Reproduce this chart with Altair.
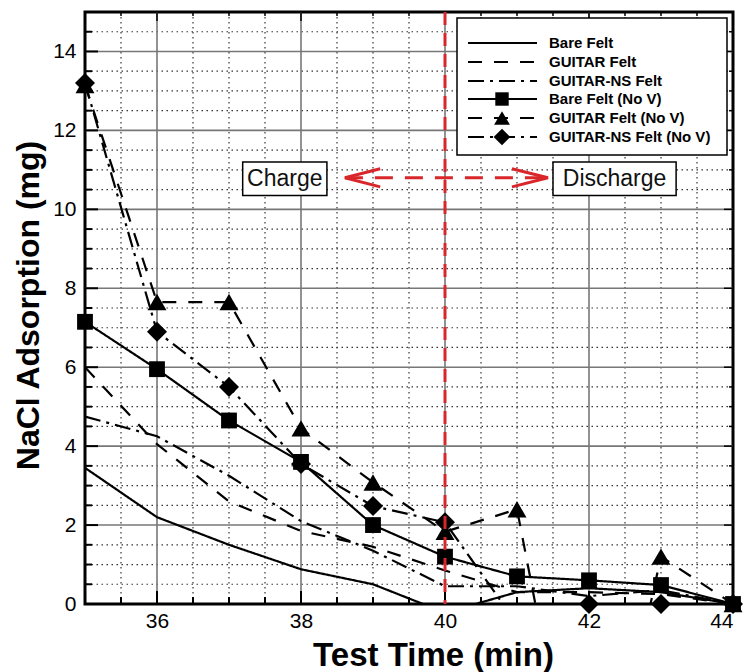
import altair as alt
import pandas as pd

# ---------------- data ----------------
times = [35, 36, 37, 38, 39, 40, 41, 42, 43, 44]
bare_felt = [3.45, 2.2, 1.5, 0.88, 0.5, -0.22, 0.3, 0.4, 0.3, 0.0]
guitar_felt = [6.0, 4.05, 2.6, 1.85, 1.45, 0.85, 0.3, 0.3, 0.25, 0.0]
guitar_ns_felt = [4.75, 4.25, 3.25, 2.1, 1.35, 0.45, 0.45, 0.2, 0.35, 0.0]
bare_felt_nov = [7.15, 5.95, 4.65, 3.6, 2.0, 1.2, 0.7, 0.6, 0.48, 0.0]
guitar_felt_nov = [13.15, 7.65, 7.65, 4.45, 3.08, 1.83, 2.4, -7.0, 1.2, 0.0]
guitar_ns_felt_nov = [13.2, 6.9, 5.5, 3.55, 2.48, 2.07, -0.5, 0.0, 0.0, 0.0]

series_names = ["Bare Felt", "GUITAR Felt", "GUITAR-NS Felt",
                "Bare Felt (No V)", "GUITAR Felt (No V)", "GUITAR-NS Felt (No V)"]
series_values = [bare_felt, guitar_felt, guitar_ns_felt,
                 bare_felt_nov, guitar_felt_nov, guitar_ns_felt_nov]

x_ticks = [36, 38, 40, 42, 44]
y_ticks = [0, 2, 4, 6, 8, 10, 12, 14]
x_minor = [35.5, 36.5, 37, 37.5, 38.5, 39, 39.5, 40.5, 41, 41.5, 42.5, 43, 43.5]
y_minor = [v / 2 for v in range(1, 30) if v % 4 != 0]
x_all_ticks = [v / 2 for v in range(71, 88)]
y_all_ticks = [v / 2 for v in range(1, 30)]

charge_x = 40
arrow_y = 10.8
arrow_left, arrow_right = 38.61, 41.43
box_labels = ["Charge", "Discharge"]
box_x1 = [37.19, 41.5]
box_x2 = [38.36, 43.21]
box_y1 = [10.35, 10.35]
box_y2 = [11.2, 11.2]

FONT = "Liberation Sans"
W, H = 648, 592
XDOM = [35, 44]
YDOM = [0, 15]

styles = {
    "Bare Felt": dict(dash=[1, 0], shape=None),
    "GUITAR Felt": dict(dash=[14, 12], shape=None),
    "GUITAR-NS Felt": dict(dash=[16, 6, 3, 6], shape=None),
    "Bare Felt (No V)": dict(dash=[1, 0], shape="square"),
    "GUITAR Felt (No V)": dict(dash=[14, 12], shape="triangle-up"),
    "GUITAR-NS Felt (No V)": dict(dash=[16, 6, 3, 6], shape="diamond"),
}
marker_size = {"square": 250, "triangle-up": 360, "diamond": 400}
legend_marker_size = {"square": 180, "triangle-up": 250, "diamond": 280}

xs = alt.Scale(domain=XDOM, nice=False, zero=False)
ys = alt.Scale(domain=YDOM, nice=False, zero=False)

xaxis = alt.Axis(values=x_ticks, format="d", ticks=False, domain=False, grid=False,
                 labelFontSize=21, labelFont=FONT, labelColor="black", labelPadding=6,
                 title="Test Time (min)", titleFont=FONT, titleFontSize=33,
                 titleFontWeight="bold", titleColor="black", titleX=348, titleY=51,
                 titleBaseline="middle", titleAnchor="start", titleAlign="center")
yaxis = alt.Axis(values=y_ticks, format="d", ticks=False, domain=False, grid=False,
                 labelFontSize=21, labelFont=FONT, labelColor="black", labelPadding=9,
                 title="NaCl Adsorption (mg)", titleFont=FONT, titleFontSize=32,
                 titleFontWeight="bold", titleColor="black", titleX=-57, titleY=293,
                 titleBaseline="middle", titleAlign="center", titleAngle=-90)

rows = []
for name, vals in zip(series_names, series_values):
    for t, v in zip(times, vals):
        rows.append({"series": name, "t": t, "v": v})
df = pd.DataFrame(rows)

layers = []

# grid lines
layers.append(alt.Chart(pd.DataFrame({"g": y_minor})).mark_rule(
    color="#333", strokeWidth=1.2, strokeDash=[1.5, 3.5]).encode(
    y=alt.Y("g:Q", scale=ys, axis=yaxis)))
layers.append(alt.Chart(pd.DataFrame({"g": x_minor})).mark_rule(
    color="#333", strokeWidth=1.2, strokeDash=[1.5, 3.5]).encode(
    x=alt.X("g:Q", scale=xs, axis=xaxis)))
layers.append(alt.Chart(pd.DataFrame({"g": y_ticks[1:]})).mark_rule(
    color="#777", strokeWidth=1.6).encode(y=alt.Y("g:Q", scale=ys)))
layers.append(alt.Chart(pd.DataFrame({"g": x_ticks[:-1]})).mark_rule(
    color="#777", strokeWidth=1.6).encode(x=alt.X("g:Q", scale=xs)))

# inward ticks
ytk = pd.DataFrame({"g": y_all_ticks, "major": [v % 2 == 0 for v in y_all_ticks]})
xtk = pd.DataFrame({"g": x_all_ticks, "major": [v % 2 == 0 for v in x_all_ticks]})
for major, ln in [(True, 13), (False, 7)]:
    flt = "datum.major" if major else "!datum.major"
    layers.append(alt.Chart(ytk).transform_filter(flt).mark_rule(color="black", strokeWidth=2).encode(
        y=alt.Y("g:Q", scale=ys), x=alt.value(0), x2=alt.value(ln)))
    layers.append(alt.Chart(xtk).transform_filter(flt).mark_rule(color="black", strokeWidth=2).encode(
        x=alt.X("g:Q", scale=xs), y=alt.value(H), y2=alt.value(H - ln)))
    tl = 9 if major else 4
    layers.append(alt.Chart(ytk).transform_filter(flt).mark_rule(color="black", strokeWidth=1.5).encode(
        y=alt.Y("g:Q", scale=ys), x=alt.value(W), x2=alt.value(W - tl)))
    layers.append(alt.Chart(xtk).transform_filter(flt).mark_rule(color="black", strokeWidth=1.5).encode(
        x=alt.X("g:Q", scale=xs), y=alt.value(0), y2=alt.value(tl)))

# data lines
for name in series_names:
    st = styles[name]
    sub = df[df.series == name]
    layers.append(alt.Chart(sub).mark_line(color="black", strokeWidth=2.2,
                                           strokeDash=st["dash"], clip=True).encode(
        x=alt.X("t:Q", scale=xs), y=alt.Y("v:Q", scale=ys), order="t:Q"))

# markers
for name in ["GUITAR Felt (No V)", "Bare Felt (No V)", "GUITAR-NS Felt (No V)"]:
    st = styles[name]
    sub = df[(df.series == name) & (df.v >= 0)]
    layers.append(alt.Chart(sub).mark_point(shape=st["shape"], filled=True, opacity=1,
                                            color="black", size=marker_size[st["shape"]]).encode(
        x=alt.X("t:Q", scale=xs), y=alt.Y("v:Q", scale=ys)))

# red vertical line at the charge/discharge switch
RED = "#d9262b"
layers.append(alt.Chart(pd.DataFrame({"x": [charge_x]})).mark_rule(
    color=RED, strokeWidth=3, strokeDash=[13, 8]).encode(x=alt.X("x:Q", scale=xs)))

# arrow shaft and heads
layers.append(alt.Chart(pd.DataFrame({"x": [arrow_left], "x2": [arrow_right], "y": [arrow_y]})).mark_rule(
    color=RED, strokeWidth=3, strokeDash=[18, 12]).encode(
    x=alt.X("x:Q", scale=xs), x2="x2:Q", y=alt.Y("y:Q", scale=ys)))
head = pd.DataFrame({
    "side": ["L", "L", "L", "R", "R", "R"],
    "i": [0, 1, 2, 0, 1, 2],
    "x": [39.1, arrow_left, 39.1, 40.93, arrow_right, 40.93],
    "y": [arrow_y + 0.23, arrow_y, arrow_y - 0.23, arrow_y + 0.23, arrow_y, arrow_y - 0.23],
})
layers.append(alt.Chart(head).mark_line(color=RED, strokeWidth=3).encode(
    x=alt.X("x:Q", scale=xs), y=alt.Y("y:Q", scale=ys), detail="side:N", order="i:Q"))

# text boxes
boxes = pd.DataFrame({"label": box_labels, "x1": box_x1, "x2": box_x2, "y1": box_y1, "y2": box_y2})
boxes["xc"] = (boxes.x1 + boxes.x2) / 2
boxes["yc"] = (boxes.y1 + boxes.y2) / 2
layers.append(alt.Chart(boxes).mark_rect(fill="white", stroke="black", strokeWidth=1.5).encode(
    x=alt.X("x1:Q", scale=xs), x2="x2:Q", y=alt.Y("y1:Q", scale=ys), y2="y2:Q"))
layers.append(alt.Chart(boxes).mark_text(font=FONT, fontSize=23, color="#111",
                                         baseline="middle", align="center").encode(
    x=alt.X("xc:Q", scale=xs), y=alt.Y("yc:Q", scale=ys), text="label:N"))

# legend
layers.append(alt.Chart(pd.DataFrame({"a": [0]})).mark_rect(
    fill="white", stroke="black", strokeWidth=1.5).encode(
    x=alt.value(372), x2=alt.value(642), y=alt.value(6), y2=alt.value(143)))
row_y = [31, 50, 69, 87, 106, 125]
for name, ry in zip(series_names, row_y):
    st = styles[name]
    one = pd.DataFrame({"label": [name]})
    layers.append(alt.Chart(one).mark_rule(color="black", strokeWidth=2.2, strokeDash=st["dash"]).encode(
        x=alt.value(383), x2=alt.value(452), y=alt.value(ry)))
    if st["shape"]:
        layers.append(alt.Chart(one).mark_point(shape=st["shape"], filled=True, opacity=1, color="black",
                                                size=legend_marker_size[st["shape"]]).encode(
            x=alt.value(417), y=alt.value(ry)))
    layers.append(alt.Chart(one).mark_text(font=FONT, fontSize=15, fontWeight="bold", align="left",
                                           baseline="middle", color="black").encode(
        x=alt.value(464), y=alt.value(ry), text="label:N"))

chart = alt.layer(*layers).properties(
    width=W, height=H,
    autosize=alt.AutoSizeParams(type="none"),
    padding={"left": 85, "top": 12, "right": 12, "bottom": 68},
    background="white",
).configure_view(stroke="black", strokeWidth=3)

chart.save("out.html", embed_options={"renderer": "svg", "actions": False})
